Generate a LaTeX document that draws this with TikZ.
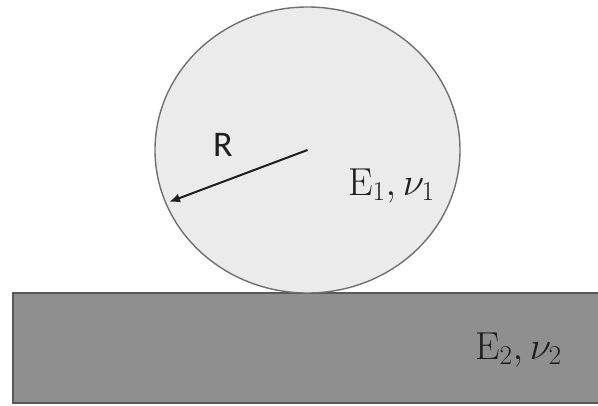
\RequirePackage{fix-cm}
\documentclass[tikz,border=0pt]{standalone}
\usepackage{fontspec}
\usetikzlibrary{arrows.meta}
\newfontfamily\sanslabel{Carlito}
\definecolor{kugelgrau}{HTML}{EBEBEB}
\definecolor{kugelrand}{HTML}{707070}
\definecolor{plattegrau}{HTML}{8F8F8F}
\definecolor{plattenrand}{HTML}{5A5A5A}
\definecolor{textschwarz}{HTML}{1E1E1E}

\begin{document}
\begin{tikzpicture}[
  x=1pt,y=-1pt,
  matlabel/.style={text=textschwarz,font=\fontsize{39}{42}\selectfont,inner sep=0pt,anchor=base west},
  radlabel/.style={text=textschwarz,font=\sanslabel\fontsize{36}{39}\selectfont,inner sep=0pt},
  radarrow/.style={-{Latex[length=11pt,width=9pt]},line width=2pt,draw=textschwarz}
]
  \useasboundingbox (0,0) rectangle (598,405);
  % Halbraum (Platte)
  \draw[fill=plattegrau,draw=plattenrand,line width=1.2pt] (13,293) rectangle (605,403);
  % Kugel
  \coordinate (ctr) at (307.5,150);
  \draw[fill=kugelgrau,draw=kugelrand,line width=1.4pt] (ctr) ellipse [x radius=152.5,y radius=143];
  \coordinate (rim) at (169,202);
  \draw[radarrow] (ctr)--(rim);
  \node[radlabel] (rlab) at (223,145) {R};
  \node[matlabel] (mat1) at (348,195) {$\mathrm{E}_1,\nu_1$};
  \node[matlabel] (mat2) at (475,359) {$\mathrm{E}_2,\nu_2$};
\end{tikzpicture}
\end{document}
